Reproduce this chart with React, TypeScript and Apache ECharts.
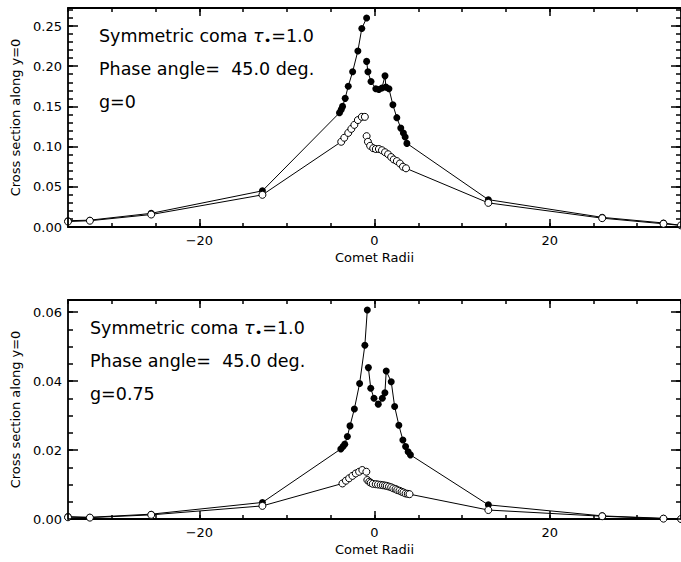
import React, { useEffect, useRef } from "react";
import * as echarts from "echarts";

// ---------- data ----------
// Panel 1: g = 0
const topFilledLeftX = [-35, -32.5, -25.5, -12.8, -4.0, -3.8, -3.65, -3.35, -3.0, -2.5, -1.9, -1.45, -0.9];
const topFilledLeftY = [0.0078, 0.0085, 0.017, 0.045, 0.142, 0.146, 0.150, 0.160, 0.175, 0.193, 0.219, 0.247, 0.26];
const topFilledRightX = [-0.9, -0.75, -0.4, 0.15, 0.5, 0.85, 1.2, 1.3, 1.65, 2.1, 2.55, 3.0, 3.3, 3.5, 3.7, 13, 26, 33, 35];
const topFilledRightY = [0.206, 0.193, 0.181, 0.172, 0.171, 0.173, 0.188, 0.174, 0.172, 0.152, 0.136, 0.123, 0.117, 0.112, 0.104, 0.034, 0.012, 0.005, 0.002];
const topOpenLeftX = [-35, -32.5, -25.5, -12.8, -3.8, -3.45, -3.0, -2.65, -2.3, -1.9, -1.45, -1.1];
const topOpenLeftY = [0.0068, 0.0078, 0.0155, 0.040, 0.106, 0.111, 0.117, 0.122, 0.127, 0.133, 0.137, 0.137];
const topOpenRightX = [-0.9, -0.75, -0.5, -0.15, 0.15, 0.5, 0.85, 1.2, 1.55, 1.9, 2.2, 2.55, 2.9, 3.25, 3.6, 13, 26, 33, 35];
const topOpenRightY = [0.113, 0.106, 0.101, 0.098, 0.097, 0.097, 0.0955, 0.093, 0.0905, 0.087, 0.084, 0.082, 0.079, 0.075, 0.073, 0.030, 0.011, 0.004, 0.002];

// Panel 2: g = 0.75
const botFilledLeftX = [-35, -32.5, -25.5, -12.8, -3.85, -3.6, -3.4, -3.1, -2.8, -2.3, -1.7, -1.1, -0.82];
const botFilledLeftY = [0.0007, 0.0005, 0.0014, 0.0048, 0.0203, 0.021, 0.0217, 0.0239, 0.027, 0.0319, 0.0393, 0.0504, 0.0606];
const botFilledRightX = [-0.7, -0.43, -0.06, 0.43, 0.89, 1.19, 1.34, 1.91, 2.3, 2.78, 3.24, 3.55, 3.84, 4.1, 13, 26, 33, 35];
const botFilledRightY = [0.0439, 0.0379, 0.035, 0.0333, 0.035, 0.0366, 0.0429, 0.0398, 0.0326, 0.0272, 0.0229, 0.021, 0.0195, 0.0186, 0.0041, 0.0009, 0.0002, 0.0];
const botOpenLeftX = [-35, -32.5, -25.5, -12.8, -3.66, -3.27, -2.9, -2.52, -2.14, -1.76, -1.39, -0.93];
const botOpenLeftY = [0.0005, 0.0004, 0.0012, 0.0038, 0.0103, 0.0111, 0.0118, 0.0125, 0.0132, 0.0137, 0.0142, 0.0137];
const botOpenRightX = [-0.82, -0.6, -0.43, -0.2, 0.14, 0.4, 0.7, 0.95, 1.19, 1.4, 1.65, 1.9, 2.14, 2.4, 2.6, 2.85, 3.09, 3.3, 3.55, 3.8, 4.0, 13, 26, 33, 35];
const botOpenRightY = [0.0113, 0.0108, 0.0105, 0.0102, 0.0101, 0.01, 0.0099, 0.0098, 0.0097, 0.0096, 0.0094, 0.0092, 0.0089, 0.0087, 0.0084, 0.0082, 0.0079, 0.0077, 0.0074, 0.0073, 0.0072, 0.0026, 0.0008, 0.0001, 0.0];

// axis settings
const xMin = -35;
const xMax = 35;
const xMajorTicks = [-20, 0, 20];
const xMinorStep = 5;
const topYMax = 0.2724;
const topYMajor = 0.05;
const topYMinor = 0.01;
const botYMax = 0.0635;
const botYMajor = 0.02;
const botYMinor = 0.005;

const xTitle = "Comet Radii";
const yTitle = "Cross section along y=0";
const topLabels = ["Symmetric coma {t|τ}{s|•}=1.0", "Phase angle=  45.0 deg.", "g=0"];
const botLabels = ["Symmetric coma {t|τ}{s|•}=1.0", "Phase angle=  45.0 deg.", "g=0.75"];

const FONT = "DejaVu Sans";
const BLACK = "#000";

const zip = (xs: number[], ys: number[]) => xs.map((x, i) => [x, ys[i]]);
const fmtX = (v: number) => (v < 0 ? "\u2212" + Math.abs(v) : String(v));

function axesFor(g: number, yMax: number, yMajor: number, yMinor: number) {
  const lineStyle = { color: BLACK, width: 1.8 };
  const hiddenLine = { show: false, onZero: false };
  const tickStyle = { color: BLACK, width: 1.5 };
  const xs = [
    {
      gridIndex: g, type: "value", position: "bottom", min: xMin, max: xMax, interval: xMinorStep,
      axisLine: { show: true, onZero: false, lineStyle },
      axisTick: { show: true, inside: true, length: 4, lineStyle: tickStyle },
      axisLabel: {
        color: BLACK, fontFamily: FONT, fontSize: 13, margin: 7,
        formatter: (v: number) => (Math.abs(v % 20) < 1e-9 ? fmtX(v) : ""),
        showMinLabel: false, showMaxLabel: false,
      },
      splitLine: { show: false },
      name: xTitle, nameLocation: "middle", nameGap: 24,
      nameTextStyle: { color: BLACK, fontFamily: FONT, fontSize: 13 },
    },
    {
      gridIndex: g, type: "value", position: "bottom", min: xMin, max: xMax,
      axisLine: hiddenLine,
      axisTick: { show: true, inside: true, length: 8, customValues: xMajorTicks, lineStyle: tickStyle },
      axisLabel: { show: false }, splitLine: { show: false },
    },
    {
      gridIndex: g, type: "value", position: "top", min: xMin, max: xMax, interval: xMinorStep,
      axisLine: { show: true, onZero: false, lineStyle },
      axisTick: { show: true, inside: true, length: 4, lineStyle: tickStyle },
      axisLabel: { show: false }, splitLine: { show: false },
    },
    {
      gridIndex: g, type: "value", position: "top", min: xMin, max: xMax,
      axisLine: hiddenLine,
      axisTick: { show: true, inside: true, length: 8, customValues: xMajorTicks, lineStyle: tickStyle },
      axisLabel: { show: false }, splitLine: { show: false },
    },
  ];
  const ys = [
    {
      gridIndex: g, type: "value", position: "left", min: 0, max: yMax, interval: yMajor,
      axisLine: { show: true, onZero: false, lineStyle },
      axisTick: { show: true, inside: true, length: 10, lineStyle: tickStyle },
      axisLabel: {
        color: BLACK, fontFamily: FONT, fontSize: 13, margin: 6,
        formatter: (v: number) => v.toFixed(2), showMaxLabel: false,
      },
      splitLine: { show: false },
      name: yTitle, nameLocation: "middle", nameGap: 46,
      nameTextStyle: { color: BLACK, fontFamily: FONT, fontSize: 13 },
      z: 5,
    },
    {
      gridIndex: g, type: "value", position: "left", min: 0, max: yMax, interval: yMinor,
      axisLine: hiddenLine,
      axisTick: { show: true, inside: true, length: 5, lineStyle: tickStyle },
      axisLabel: { show: false }, splitLine: { show: false },
    },
    {
      gridIndex: g, type: "value", position: "right", min: 0, max: yMax, interval: yMajor,
      axisLine: { show: true, onZero: false, lineStyle },
      axisTick: { show: true, inside: true, length: 10, lineStyle: tickStyle },
      axisLabel: { show: false }, splitLine: { show: false },
      z: 5,
    },
    {
      gridIndex: g, type: "value", position: "right", min: 0, max: yMax, interval: yMinor,
      axisLine: hiddenLine,
      axisTick: { show: true, inside: true, length: 5, lineStyle: tickStyle },
      axisLabel: { show: false }, splitLine: { show: false },
    },
  ];
  return { xs, ys };
}

function seriesFor(axisBase: number, data: number[][], open: boolean) {
  return {
    type: "line",
    xAxisIndex: axisBase,
    yAxisIndex: axisBase,
    data,
    symbol: "circle",
    symbolSize: 7,
    showSymbol: true,
    clip: true,
    lineStyle: { color: BLACK, width: 1 },
    itemStyle: open
      ? { color: "#fff", borderColor: BLACK, borderWidth: 1 }
      : { color: BLACK, borderColor: BLACK, borderWidth: 0 },
    emphasis: { disabled: true },
    z: open ? 3 : 2,
  };
}

function labelTexts(x: number, ys: number[], texts: string[]) {
  return texts.map((t, i) => ({
    type: "text",
    x,
    y: ys[i],
    style: {
      text: t,
      fill: BLACK,
      fontFamily: FONT,
      fontSize: 17.5,
      verticalAlign: "middle",
      align: "left",
      rich: {
        t: { fontFamily: FONT, fontSize: 17.5, fontStyle: "italic", fill: BLACK, lineHeight: 22 },
        s: { fontFamily: FONT, fontSize: 13, fill: BLACK, verticalAlign: "bottom", lineHeight: 13 },
      },
    },
  }));
}

export default function App() {
  const ref = useRef<HTMLDivElement>(null);
  useEffect(() => {
    if (!ref.current) return;
    const chart = echarts.init(ref.current, null, { renderer: "svg" });
    const a = axesFor(0, topYMax, topYMajor, topYMinor);
    const b = axesFor(1, botYMax, botYMajor, botYMinor);
    const option: any = {
      animation: false,
      backgroundColor: "#fff",
      grid: [
        { left: 68, top: 8, width: 615, height: 219, containLabel: false },
        { left: 68, top: 300, width: 615, height: 219, containLabel: false },
      ],
      xAxis: [...a.xs, ...b.xs],
      yAxis: [...a.ys, ...b.ys],
      series: [
        seriesFor(0, zip(topFilledLeftX, topFilledLeftY), false),
        seriesFor(0, zip(topFilledRightX, topFilledRightY), false),
        seriesFor(0, zip(topOpenLeftX, topOpenLeftY), true),
        seriesFor(0, zip(topOpenRightX, topOpenRightY), true),
        seriesFor(4, zip(botFilledLeftX, botFilledLeftY), false),
        seriesFor(4, zip(botFilledRightX, botFilledRightY), false),
        seriesFor(4, zip(botOpenLeftX, botOpenLeftY), true),
        seriesFor(4, zip(botOpenRightX, botOpenRightY), true),
      ],
      graphic: [
        ...labelTexts(99, [36, 69, 102], topLabels),
        ...labelTexts(90, [328, 361, 394], botLabels),
      ],
    };
    chart.setOption(option);
    return () => chart.dispose();
  }, []);
  return (
    <div
      ref={ref}
      style={{ position: "absolute", left: 0, top: 0, width: 681, height: 562, background: "#fff" }}
    />
  );
}
